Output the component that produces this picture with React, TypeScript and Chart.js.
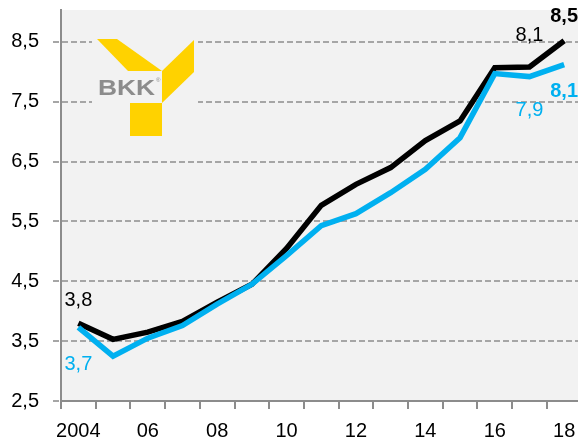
import React, { useEffect, useRef } from "react";
import { Chart, registerables } from "chart.js";

Chart.register(...registerables);

const years = [2004, 2005, 2006, 2007, 2008, 2009, 2010, 2011, 2012, 2013, 2014, 2015, 2016, 2017, 2018];
const xTickLabels = ["2004", "", "06", "", "08", "", "10", "", "12", "", "14", "", "16", "", "18"];
const yTickValues = [2.5, 3.5, 4.5, 5.5, 6.5, 7.5, 8.5];

const blackSeries = [3.8, 3.53, 3.65, 3.83, 4.15, 4.45, 5.05, 5.77, 6.12, 6.4, 6.85, 7.18, 8.07, 8.08, 8.52];
const blueSeries = [3.73, 3.25, 3.55, 3.76, 4.12, 4.45, 4.93, 5.43, 5.63, 5.98, 6.37, 6.9, 7.97, 7.92, 8.12];

// datasetIndex: 0 = blue, 1 = black
const labelledPoints = [
  { dataset: 1, index: 0, dy: -23, bold: false },
  { dataset: 0, index: 0, dy: 37, bold: false },
  { dataset: 1, index: 13, dy: -32, bold: false },
  { dataset: 0, index: 13, dy: 34, bold: false },
  { dataset: 1, index: 14, dy: -24, bold: true },
  { dataset: 0, index: 14, dy: 27, bold: true },
];

const FONT = "'Liberation Sans Narrow', 'Arial Narrow', 'Liberation Sans', Arial, sans-serif";
const fmt = (v: number) => v.toFixed(1).replace(".", ",");

const bgPlugin = {
  id: "bgPlugin",
  beforeDraw(chart: any) {
    const { ctx, chartArea } = chart;
    ctx.save();
    ctx.fillStyle = "#f2f2f2";
    ctx.fillRect(chartArea.left, chartArea.top, chartArea.right - chartArea.left, chartArea.bottom - chartArea.top);
    ctx.restore();
  },
};

const labelPlugin = {
  id: "labelPlugin",
  afterDatasetsDraw(chart: any) {
    const { ctx } = chart;
    ctx.save();
    ctx.textAlign = "center";
    ctx.textBaseline = "middle";
    labelledPoints.forEach((lp) => {
      const meta = chart.getDatasetMeta(lp.dataset);
      const el = meta.data[lp.index];
      const ds = chart.data.datasets[lp.dataset];
      const v = ds.data[lp.index].y;
      ctx.font = `${lp.bold ? "bold " : ""}20px ${FONT}`;
      ctx.fillStyle = ds.borderColor;
      ctx.fillText(fmt(v), el.x, el.y + lp.dy);
    });
    ctx.restore();
  },
};

const logoPlugin = {
  id: "logoPlugin",
  afterDraw(chart: any) {
    const { ctx } = chart;
    ctx.save();
    ctx.fillStyle = "#f2f2f2";
    ctx.fillRect(92, 33, 106, 108);
    ctx.fillStyle = "#ffd200";
    const poly = (pts: number[][]) => {
      ctx.beginPath();
      ctx.moveTo(pts[0][0], pts[0][1]);
      for (let i = 1; i < pts.length; i++) ctx.lineTo(pts[i][0], pts[i][1]);
      ctx.closePath();
      ctx.fill();
    };
    poly([[97, 39], [117, 39], [162, 71], [128, 71]]);
    poly([[162, 71], [194, 40], [194, 72], [162, 103]]);
    poly([[130, 103], [162, 103], [162, 136], [130, 136]]);
    ctx.fillStyle = "#8c8c8c";
    ctx.font = "bold 22px 'Liberation Sans', Arial, sans-serif";
    ctx.textBaseline = "alphabetic";
    ctx.textAlign = "left";
    const w = ctx.measureText("BKK").width;
    ctx.save();
    ctx.translate(98, 95);
    ctx.scale(57 / w, 1);
    ctx.fillText("BKK", 0, 0);
    ctx.restore();
    ctx.font = "6px 'Liberation Sans', Arial, sans-serif";
    ctx.fillText("®", 156, 82);
    ctx.restore();
  },
};

export default function App() {
  const ref = useRef<HTMLCanvasElement>(null);
  useEffect(() => {
    if (!ref.current) return;
    const chart = new Chart(ref.current, {
      type: "line",
      data: {
        datasets: [
          {
            data: blueSeries.map((v, i) => ({ x: i, y: v })),
            borderColor: "#00b0f0",
            borderWidth: 5.5,
            pointRadius: 0,
            tension: 0,
            order: 0,
          },
          {
            data: blackSeries.map((v, i) => ({ x: i, y: v })),
            borderColor: "#000000",
            borderWidth: 5.5,
            pointRadius: 0,
            tension: 0,
            order: 1,
          },
        ],
      },
      plugins: [bgPlugin, labelPlugin, logoPlugin],
      options: {
        animation: false,
        responsive: false,
        devicePixelRatio: 1,
        layout: { padding: 0 },
        plugins: { legend: { display: false }, tooltip: { enabled: false } },
        scales: {
          x: {
            type: "linear",
            min: -0.5,
            max: -0.5 + 517 / 34.7,
            afterBuildTicks(scale: any) {
              scale.ticks = years.map((_, i) => ({ value: i - 0.5 }));
            },
            afterFit(scale: any) {
              scale.height = 45;
              scale.paddingLeft = 0;
              scale.paddingRight = 0;
            },
            grid: {
              drawOnChartArea: false,
              drawTicks: true,
              tickLength: 8,
              tickColor: "#8c8c8c",
              lineWidth: 2,
            },
            border: { display: true, color: "#8c8c8c", width: 2 },
            ticks: {
              autoSkip: false,
              maxRotation: 0,
              minRotation: 0,
              padding: 10,
              labelOffset: 17.35,
              color: "#000",
              font: { family: FONT, size: 20 },
              callback: (value: any) => xTickLabels[Math.round(Number(value) + 0.5)] ?? "",
            },
          },
          y: {
            type: "linear",
            min: 2.5,
            max: 9.033,
            afterBuildTicks(scale: any) {
              scale.ticks = yTickValues.map((v) => ({ value: v }));
            },
            afterFit(scale: any) {
              scale.width = 61;
              scale.paddingTop = 10;
              scale.paddingBottom = 0;
            },
            grid: {
              color: "#a6a6a6",
              lineWidth: 2,
              drawTicks: true,
              tickLength: 8,
              tickColor: "#a6a6a6",
              tickBorderDash: [6, 3],
            },
            border: { display: true, color: "#8c8c8c", width: 2, dash: [6, 3] } as any,
            ticks: {
              padding: 14,
              color: "#000",
              font: { family: FONT, size: 20 },
              callback: (value: any) => fmt(Number(value)),
            },
          },
        },
      } as any,
    });
    return () => chart.destroy();
  }, []);
  return (
    <div style={{ position: "absolute", left: 0, top: 0, width: 578, height: 446 }}>
      <canvas ref={ref} width={578} height={446} style={{ width: 578, height: 446, display: "block" }} />
    </div>
  );
}
